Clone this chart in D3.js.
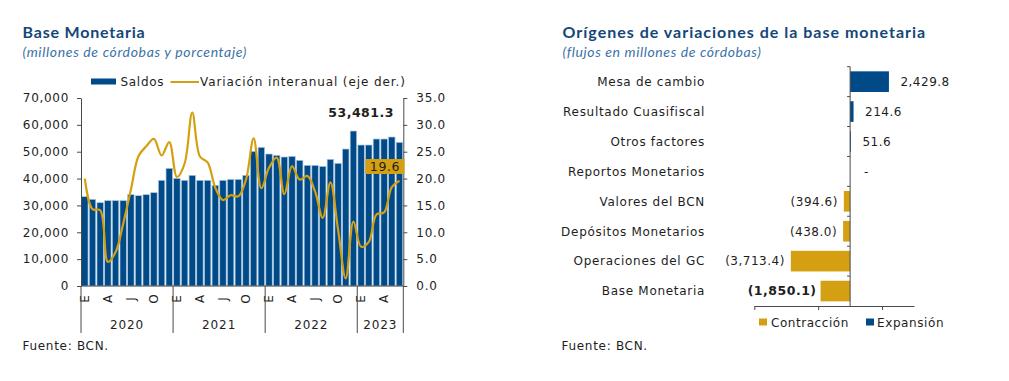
<!DOCTYPE html>
<html><head><meta charset="utf-8">
<script src="https://cdn.jsdelivr.net/npm/d3@7"></script>
<style>
body{margin:0;background:#fff}
svg{display:block}
text{font-family:"DejaVu Sans",Verdana,sans-serif;fill:#1e1e1e}
.ttl{font-family:Lato,"Noto Sans",sans-serif;font-weight:700;fill:#134779}
.sub{font-family:Lato,"Noto Sans",sans-serif;font-style:italic;fill:#3c72a6}
</style>
</head><body>
<svg id="c" width="1009" height="381"></svg>
<script>
// ---------- data: left chart ----------
const years = ["2020", "2021", "2022", "2023"];
const monthsInYear = [12, 12, 12, 6];
const monthInitials = ["E","F","M","A","M","J","J","A","S","O","N","D"];
const shownMonthIdx = [0, 3, 6, 9];
const saldos = [33260, 32270, 31020, 31770, 31770, 31770, 34000, 33630, 34000, 34750, 39340, 43800,
                40080, 39340, 41200, 39340, 39340, 37480, 39340, 39700, 39700, 41200, 50140, 51630,
                49140, 48650, 48030, 48270, 46790, 44920, 44920, 44550, 47160, 45670, 51000, 57700,
                52490, 52490, 54730, 54730, 55470, 53481.3];
const variacion = [20.0, 14.3, 14.1, 4.5, 6.3, 11.6, 17.9, 24.2, 26.0, 27.4, 24.3, 26.8,
                   20.3, 22.8, 32.3, 24.1, 23.0, 18.3, 16.0, 16.9, 16.7, 19.8, 27.5, 18.2,
                   22.0, 23.9, 17.1, 22.3, 19.8, 20.5, 17.6, 12.7, 19.3, 10.5, 1.4, 12.0,
                   7.3, 8.2, 13.3, 13.7, 18.4, 19.6];
const leftTicks = [0, 10000, 20000, 30000, 40000, 50000, 60000, 70000];
const rightTicks = [0, 5, 10, 15, 20, 25, 30, 35];

// ---------- data: right chart ----------
const origenCats = ["Mesa de cambio", "Resultado Cuasifiscal", "Otros factores", "Reportos Monetarios",
                    "Valores del BCN", "Depósitos Monetarios", "Operaciones del GC", "Base Monetaria"];
const origenVals = [2429.8, 214.6, 51.6, 0, -394.6, -438.0, -3713.4, -1850.1];
const origenTicks = [-6000, -2000, 2000];

const BLUE = "#004a87", GOLD = "#d4a012", AX = "#4a4a4a";
const FS = 12, LS = 0.7;
const svg = d3.select("#c");

// ===== LEFT CHART =====
const categories = years.flatMap((y, i) => d3.range(monthsInYear[i]).map(m => ({year: y, m, key: y + "-" + (m + 1)})));
const keys = categories.map(d => d.key);
const x = d3.scaleBand().domain(keys).range([81, 403.3]).paddingInner(0.16).paddingOuter(0.08);
const xc = k => x(k) + x.bandwidth() / 2;
const yL = d3.scaleLinear().domain([0, 70000]).range([286, 98]);
const yR = d3.scaleLinear().domain([0, 35]).range([286, 98]);

svg.append("text").attr("class", "ttl").attr("x", 22.5).attr("y", 38).attr("font-size", 16).attr("letter-spacing", 0.8).text("Base Monetaria");
svg.append("text").attr("class", "sub").attr("x", 22.5).attr("y", 57).attr("font-size", 14).attr("letter-spacing", 0.65).text("(millones de córdobas y porcentaje)");

// bars
svg.append("g").selectAll("rect").data(saldos).join("rect")
  .attr("x", (d, i) => x(keys[i])).attr("width", x.bandwidth())
  .attr("y", d => yL(d)).attr("height", d => yL(0) - yL(d))
  .attr("fill", BLUE).attr("stroke", "#a8c5e2").attr("stroke-width", 0.7);

// line
const line = d3.line().x((d, i) => xc(keys[i])).y(d => yR(d)).curve(d3.curveCatmullRom.alpha(0.5));
svg.append("path").datum(variacion).attr("d", line).attr("fill", "none").attr("stroke", GOLD).attr("stroke-width", 2.2);

// axes
const gl = svg.append("g").attr("transform", "translate(81,0)")
  .call(d3.axisLeft(yL).tickValues(leftTicks).tickSize(4).tickSizeOuter(0).tickPadding(8).tickFormat(d3.format(",")));
const gr = svg.append("g").attr("transform", "translate(403.3,0)")
  .call(d3.axisRight(yR).tickValues(rightTicks).tickSize(4).tickSizeOuter(0).tickPadding(9).tickFormat(d3.format(".1f")));
[gl, gr].forEach(g => {
  g.selectAll("path,line").attr("stroke", AX);
  g.selectAll("text").attr("font-size", FS).attr("letter-spacing", LS).attr("fill", "#1e1e1e").attr("font-family", '"DejaVu Sans",Verdana,sans-serif');
});
svg.append("line").attr("x1", 81).attr("x2", 403.3).attr("y1", yL(0)).attr("y2", yL(0)).attr("stroke", AX);

// x labels
let start = 0;
const bounds = [81];
years.forEach((y, i) => {
  const ks = keys.slice(start, start + monthsInYear[i]);
  const x0 = x(ks[0]) - x.step() * x.paddingInner() / 2;
  const x1 = x(ks[ks.length - 1]) + x.bandwidth() + x.step() * x.paddingInner() / 2;
  bounds.push(x1);
  shownMonthIdx.filter(m => m < monthsInYear[i]).forEach(m => {
    svg.append("text").attr("transform", `translate(${xc(ks[m]) + 4.3},299) rotate(-90)`)
      .attr("text-anchor", "middle").attr("font-size", FS).text(monthInitials[m]);
  });
  svg.append("text").attr("x", (x0 + x1) / 2).attr("y", 328.5).attr("text-anchor", "middle")
    .attr("font-size", FS).attr("letter-spacing", 0.9).text(y);
  start += monthsInYear[i];
});
bounds.forEach(b => svg.append("line").attr("x1", b).attr("x2", b).attr("y1", 286).attr("y2", 333).attr("stroke", AX));

// annotations
const lastK = keys[keys.length - 1];
const lastV = saldos[saldos.length - 1];
svg.append("text").attr("x", xc(lastK) - 5.5).attr("y", yL(lastV) - 25).attr("text-anchor", "end")
  .attr("font-size", 12.5).attr("font-weight", "bold").attr("letter-spacing", 0.5).text(d3.format(",.1f")(lastV));
const lastVar = variacion[variacion.length - 1];
const bx = xc(lastK) - 34, by = yR(lastVar) - 21.7;
svg.append("rect").attr("x", bx).attr("y", by).attr("width", 39).attr("height", 15).attr("fill", GOLD);
svg.append("text").attr("x", bx + 19.5).attr("y", by + 12).attr("text-anchor", "middle")
  .attr("font-size", 12.5).attr("letter-spacing", 0.6).text(d3.format(".1f")(lastVar));

// legend
svg.append("rect").attr("x", 91).attr("y", 78.5).attr("width", 25).attr("height", 6).attr("fill", BLUE);
svg.append("text").attr("x", 120.5).attr("y", 86.3).attr("font-size", FS).attr("letter-spacing", LS).text("Saldos");
svg.append("line").attr("x1", 170.5).attr("x2", 199).attr("y1", 82).attr("y2", 82).attr("stroke", GOLD).attr("stroke-width", 2);
svg.append("text").attr("x", 200).attr("y", 86.3).attr("font-size", FS).attr("letter-spacing", 0.9).text("Variación interanual (eje der.)");

svg.append("text").attr("x", 22.5).attr("y", 349.5).attr("font-size", FS).attr("letter-spacing", LS).text("Fuente: BCN.");

// ===== RIGHT CHART =====
svg.append("text").attr("class", "ttl").attr("x", 562.5).attr("y", 38).attr("font-size", 16).attr("letter-spacing", 1.0).text("Orígenes de variaciones de la base monetaria");
svg.append("text").attr("class", "sub").attr("x", 562.5).attr("y", 57).attr("font-size", 14).attr("letter-spacing", 0.6).text("(flujos en millones de córdobas)");

const xR = d3.scaleLinear().domain([-6000, 4000]).range([754.3, 914]);
const yB = d3.scaleBand().domain(origenCats).range([66.7, 306]).paddingInner(0.31).paddingOuter(0.155);
const fmtV = v => v === 0 ? "-" : v < 0 ? "(" + d3.format(",.1f")(-v) + ")" : d3.format(",.1f")(v);

svg.append("g").selectAll("rect").data(origenVals).join("rect")
  .attr("x", d => Math.min(xR(0), xR(d))).attr("width", d => Math.abs(xR(d) - xR(0)))
  .attr("y", (d, i) => yB(origenCats[i])).attr("height", yB.bandwidth())
  .attr("fill", d => d < 0 ? GOLD : BLUE);

// vertical axis + category ticks
svg.append("line").attr("x1", xR(0)).attr("x2", xR(0)).attr("y1", 66.7).attr("y2", 306).attr("stroke", AX);
d3.range(origenCats.length).forEach(i => {
  const yy = 66.7 + i * yB.step();
  svg.append("line").attr("x1", xR(0) - 3).attr("x2", xR(0)).attr("y1", yy).attr("y2", yy).attr("stroke", AX);
});
const gb = svg.append("g").attr("transform", "translate(0,306)")
  .call(d3.axisBottom(xR).tickValues(origenTicks).tickSize(4).tickSizeOuter(0).tickFormat(""));
gb.selectAll("path,line").attr("stroke", AX);

// category labels
origenCats.forEach((c, i) => {
  const cy = yB(c) + yB.bandwidth() / 2;
  svg.append("text").attr("x", 705).attr("y", cy + 4.3).attr("text-anchor", "end")
    .attr("font-size", FS).attr("letter-spacing", LS).text(c);
  const v = origenVals[i];
  const t = svg.append("text").attr("y", cy + 4.3).attr("font-size", FS).attr("letter-spacing", 0.5).text(fmtV(v));
  if (v > 0) t.attr("x", xR(v) + 11.5);
  else if (v === 0) t.attr("x", xR(0) + 14);
  else t.attr("x", xR(v) - (i === origenCats.length - 1 ? 4 : 6)).attr("text-anchor", "end");
  if (i === origenCats.length - 1) t.attr("font-weight", "bold").attr("font-size", 12.5);
});

// legend
svg.append("rect").attr("x", 759).attr("y", 318.5).attr("width", 8).attr("height", 7).attr("fill", GOLD);
svg.append("text").attr("x", 771).attr("y", 326.8).attr("font-size", FS).attr("letter-spacing", 0.55).text("Contracción");
svg.append("rect").attr("x", 866).attr("y", 318.5).attr("width", 8).attr("height", 7).attr("fill", BLUE);
svg.append("text").attr("x", 877).attr("y", 326.8).attr("font-size", FS).attr("letter-spacing", 0.6).text("Expansión");

svg.append("text").attr("x", 561.5).attr("y", 349.5).attr("font-size", FS).attr("letter-spacing", LS).text("Fuente: BCN.");
</script>
</body></html>
